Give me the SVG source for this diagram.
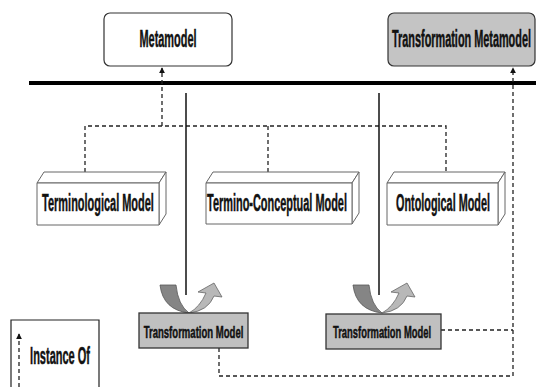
<svg xmlns="http://www.w3.org/2000/svg" xmlns:xlink="http://www.w3.org/1999/xlink" width="536" height="387" viewBox="0 0 536 387">
  <style>
    .lbl { font-family: "Liberation Sans", Arial, sans-serif; font-weight: bold; fill: #111; stroke: #111; stroke-width: 0.5; text-anchor: middle; }
    .big { font-size: 24px; }
    .small { font-size: 17px; }
    .meta { fill: #ffffff; stroke: #333; stroke-width: 1.2; }
    .meta-gray { fill: #c4c4c4; stroke: #333; stroke-width: 1.2; }
    .cube { fill: #ffffff; stroke: #666; stroke-width: 1; stroke-linejoin: round; }
    .tm { fill: #c0c0c0; stroke: #333; stroke-width: 1.3; }
    .dash { fill: none; stroke: #222; stroke-width: 1.3; stroke-dasharray: 4 3; }
    .solid { fill: none; stroke: #111; stroke-width: 1.5; }
    .rule { stroke: #000; stroke-width: 4; }
    .arm-dark { fill: #858585; stroke: #555; stroke-width: 0.8; }
    .arm-light { fill: #b8b8b8; stroke: #666; stroke-width: 0.8; }
  </style>
  <defs>
    <marker id="tip" viewBox="0 0 8 8" refX="7" refY="4" markerWidth="6" markerHeight="6" orient="auto" markerUnits="userSpaceOnUse">
      <path d="M0,0 L8,4 L0,8 Z" fill="#111"/>
    </marker>
    <!-- U-turn arrow: origin at the foot of the vertical line -->
    <g id="turn">
      <path class="arm-dark" d="M-26,-28 L-10,-28 Q-8,-8 3,0 Q-23,-3 -26,-28 Z"/>
      <path class="arm-light" d="M3,0 Q22,-2 28,-17 L36,-16 L28,-30 L12,-21 L20,-20 Q14,-6 3,0 Z"/>
    </g>
  </defs>

  <rect width="536" height="387" fill="#ffffff"/>

  <!-- level separator -->
  <line class="rule" x1="29" y1="83" x2="536" y2="83"/>

  <g id="connectors">
    <!-- instance-of links to Metamodel -->
    <path class="dash" d="M85,172 V126 H446 V172"/>
    <path class="dash" d="M268,126 V172"/>
    <path class="dash" d="M162,126 V68" marker-end="url(#tip)"/>
    <!-- instance-of links to Transformation Metamodel -->
    <path class="dash" d="M219,348 V376 H513"/>
    <path class="dash" d="M441,330 H513"/>
    <path class="dash" d="M513,376 V68" marker-end="url(#tip)"/>
    <!-- transformation flows -->
    <line class="solid" x1="186" y1="93" x2="186" y2="295"/>
    <line class="solid" x1="379" y1="93" x2="379" y2="295"/>
    <use xlink:href="#turn" transform="translate(186,313)"/>
    <use xlink:href="#turn" transform="translate(379,313)"/>
  </g>

  <g id="metamodel">
    <rect class="meta" x="104" y="13" width="128" height="53" rx="6"/>
    <text class="lbl big" transform="translate(168,47) scale(0.46,1)" textLength="124" lengthAdjust="spacingAndGlyphs">Metamodel</text>
  </g>

  <g id="transformation-metamodel">
    <rect class="meta-gray" x="388" y="13" width="147" height="53" rx="6"/>
    <text class="lbl big" transform="translate(461.5,47) scale(0.46,1)" textLength="302" lengthAdjust="spacingAndGlyphs">Transformation Metamodel</text>
  </g>

  <g id="terminological-model">
    <polygon class="cube" points="37,183 44,172 166,172 159,183"/>
    <polygon class="cube" points="159,183 166,172 166,214 159,225"/>
    <rect class="cube" x="37" y="183" width="122" height="42"/>
    <text class="lbl big" transform="translate(98,211) scale(0.46,1)" textLength="243" lengthAdjust="spacingAndGlyphs">Terminological Model</text>
  </g>

  <g id="termino-conceptual-model">
    <polygon class="cube" points="206,183 213,172 359,172 352,183"/>
    <polygon class="cube" points="352,183 359,172 359,213 352,224"/>
    <rect class="cube" x="206" y="183" width="146" height="41"/>
    <text class="lbl big" transform="translate(277,211) scale(0.46,1)" textLength="304" lengthAdjust="spacingAndGlyphs">Termino-Conceptual Model</text>
  </g>

  <g id="ontological-model">
    <polygon class="cube" points="387,183 394,172 505,172 498,183"/>
    <polygon class="cube" points="498,183 505,172 505,214 498,225"/>
    <rect class="cube" x="387" y="183" width="111" height="42"/>
    <text class="lbl big" transform="translate(443,211) scale(0.46,1)" textLength="204" lengthAdjust="spacingAndGlyphs">Ontological Model</text>
  </g>

  <g id="transformation-model-1">
    <rect class="tm" x="139" y="313" width="109" height="35"/>
    <text class="lbl small" transform="translate(193.5,338) scale(0.56,1)" textLength="178" lengthAdjust="spacingAndGlyphs">Transformation Model</text>
  </g>

  <g id="transformation-model-2">
    <rect class="tm" x="326" y="314" width="115" height="35"/>
    <text class="lbl small" transform="translate(382,338) scale(0.56,1)" textLength="175" lengthAdjust="spacingAndGlyphs">Transformation Model</text>
  </g>

  <g id="legend">
    <path d="M11,387 V320 H99 V387" fill="none" stroke="#222" stroke-width="1.2"/>
    <path class="dash" d="M19,387 V334" marker-end="url(#tip)"/>
    <text class="lbl big" transform="translate(60,364) scale(0.46,1)" textLength="130" lengthAdjust="spacingAndGlyphs">Instance Of</text>
  </g>
</svg>
